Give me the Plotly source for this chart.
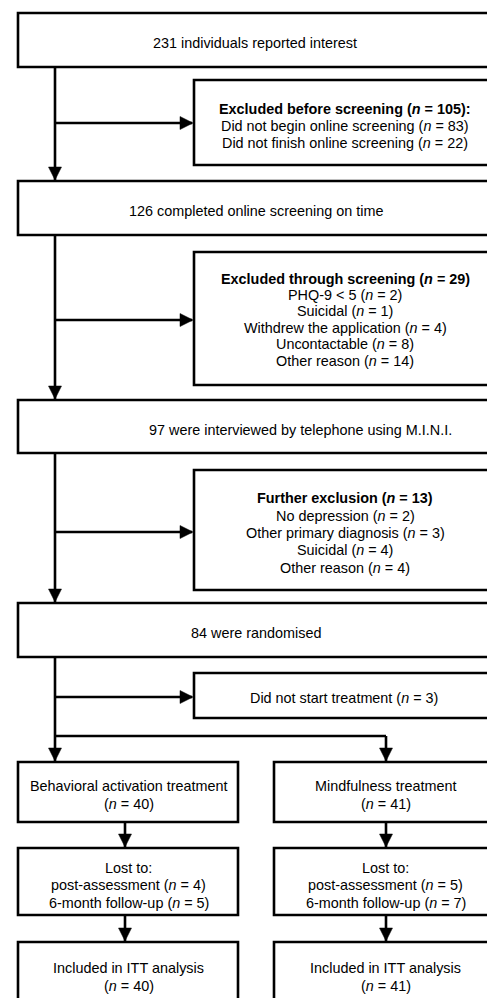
import plotly.graph_objects as go

# ---------------- data ----------------
n_interest = 231
n_excl_before = 105
n_not_begin = 83
n_not_finish = 22
n_completed = 126
n_excl_screen = 29
screen_reasons = ["PHQ-9 &lt; 5", "Suicidal", "Withdrew the application", "Uncontactable", "Other reason"]
screen_counts = [2, 1, 4, 8, 14]
n_interviewed = 97
n_further = 13
further_reasons = ["No depression", "Other primary diagnosis", "Suicidal", "Other reason"]
further_counts = [2, 3, 4, 4]
n_randomised = 84
n_not_start = 3
arms = ["Behavioral activation treatment", "Mindfulness treatment"]
arm_n = [40, 41]
lost_post = [4, 5]
lost_fu = [5, 7]
itt_n = [40, 41]

def nn(v):
    return f"(<i>n</i> = {v})"

# ---------------- texts (list of lines per box) ----------------
t_box1 = [f"{n_interest} individuals reported interest"]
t_ex1 = [f"<b>Excluded before screening (<i>n</i> = {n_excl_before}):</b>",
         f"Did not begin online screening {nn(n_not_begin)}",
         f"Did not finish online screening {nn(n_not_finish)}"]
t_box2 = [f"{n_completed} completed online screening on time"]
t_ex2 = [f"<b>Excluded through screening (<i>n</i> = {n_excl_screen})</b>"] + \
        [f"{r} {nn(c)}" for r, c in zip(screen_reasons, screen_counts)]
t_box3 = [f"{n_interviewed} were interviewed by telephone using M.I.N.I."]
t_ex3 = [f"<b>Further exclusion (<i>n</i> = {n_further})</b>"] + \
        [f"{r} {nn(c)}" for r, c in zip(further_reasons, further_counts)]
t_box4 = [f"{n_randomised} were randomised"]
t_ex4 = [f"Did not start treatment {nn(n_not_start)}"]
t_arm = [[a, nn(v)] for a, v in zip(arms, arm_n)]
t_lost = [["Lost to:", f"post-assessment {nn(p)}", f"6-month follow-up {nn(f)}"] for p, f in zip(lost_post, lost_fu)]
t_itt = [["Included in ITT analysis", nn(v)] for v in itt_n]

# ---------------- layout geometry (pixels) ----------------
W, H = 487, 998
LW = 2.6
MAINX = 55
L_LEFT, R_EDGE = 18, 494
EX_LEFT = 194
COLX = [125, 386]
ARM_BOX = [(18, 238), (274, 494)]

boxes = [
    # (x0, y0, x1, y1, lines, text_x, text_cy, line_spacing)
    (L_LEFT, 13, R_EDGE, 67, t_box1, 255, 42, 17.4),
    (EX_LEFT, 80, R_EDGE, 165, t_ex1, 345, 125, 17.3),
    (L_LEFT, 181, R_EDGE, 235, t_box2, 256, 210, 17.4),
    (EX_LEFT, 252, R_EDGE, 385, t_ex2, 345, 318.5, 16.4),
    (L_LEFT, 400, R_EDGE, 453, t_box3, 300, 428.5, 17.4),
    (EX_LEFT, 470, R_EDGE, 590, t_ex3, 345, 532, 17.3),
    (L_LEFT, 603, R_EDGE, 657, t_box4, 256, 632, 17.4),
    (EX_LEFT, 673, R_EDGE, 718, t_ex4, 344, 697, 17.4),
]
for i in range(2):
    x0, x1 = ARM_BOX[i]
    cx = 128.5 if i == 0 else 385.5
    boxes.append((x0, 762, x1, 822, t_arm[i], cx, 794, 17.8))
    boxes.append((x0, 848, x1, 915, t_lost[i], cx, 884, 17.5))
    boxes.append((x0, 942, x1, 1012, t_itt[i], cx, 976, 18.0))

shapes = []
annotations = []
FONT = dict(family="Liberation Sans, Arial, Helvetica, sans-serif", size=14.4, color="black")

for x0, y0, x1, y1, lines, tx, cy, lh in boxes:
    shapes.append(dict(type="rect", x0=x0, y0=y0, x1=x1, y1=y1, xref="x", yref="y",
                       line=dict(color="black", width=LW), fillcolor="white", layer="above"))
    n = len(lines)
    for k, ln in enumerate(lines):
        yk = cy + 1 + (k - (n - 1) / 2) * lh
        annotations.append(dict(x=tx, y=yk, xref="x", yref="y", text=ln, showarrow=False,
                                xanchor="center", yanchor="middle", align="center", font=FONT))

AH = 13   # arrowhead length
AW = 6.5  # arrowhead half width

def vline(x, ya, yb):
    shapes.append(dict(type="line", x0=x, x1=x, y0=ya, y1=yb, xref="x", yref="y",
                       line=dict(color="black", width=LW), layer="below"))

def hline(y, xa, xb):
    shapes.append(dict(type="line", x0=xa, x1=xb, y0=y, y1=y, xref="x", yref="y",
                       line=dict(color="black", width=LW), layer="below"))

def head_down(x, ytip):
    shapes.append(dict(type="path", xref="x", yref="y",
                       path=f"M {x-AW},{ytip-AH} L {x+AW},{ytip-AH} L {x},{ytip} Z",
                       fillcolor="black", line=dict(color="black", width=0.5), layer="above"))

def head_right(y, xtip):
    shapes.append(dict(type="path", xref="x", yref="y",
                       path=f"M {xtip-AH},{y-AW} L {xtip-AH},{y+AW} L {xtip},{y} Z",
                       fillcolor="black", line=dict(color="black", width=0.5), layer="above"))

# main spine
vline(MAINX, 67, 181); head_down(MAINX, 181 - 1)
vline(MAINX, 235, 400); head_down(MAINX, 400 - 1)
vline(MAINX, 453, 603); head_down(MAINX, 603 - 1)
vline(MAINX, 657, 762); head_down(MAINX, 762 - 1)
# side arrows to exclusion boxes
for y in [123, 320, 532, 697]:
    hline(y, MAINX, EX_LEFT - 2)
    head_right(y, EX_LEFT - 1)
# split to second arm
hline(736, MAINX, COLX[1])
vline(COLX[1], 736, 762); head_down(COLX[1], 762 - 1)
# arm arrows
for x in COLX:
    vline(x, 822, 848); head_down(x, 848 - 1)
    vline(x, 915, 942); head_down(x, 942 - 1)

fig = go.Figure()
fig.update_layout(
    width=W, height=H, margin=dict(l=0, r=0, t=0, b=0),
    paper_bgcolor="white", plot_bgcolor="white",
    xaxis=dict(range=[0, W], visible=False, fixedrange=True),
    yaxis=dict(range=[H, 0], visible=False, fixedrange=True),
    shapes=shapes, annotations=annotations, showlegend=False,
)
fig.write_html("out.html", config=dict(displayModeBar=False),
               post_script="document.body.style.margin='0';document.body.style.overflow='hidden';")
